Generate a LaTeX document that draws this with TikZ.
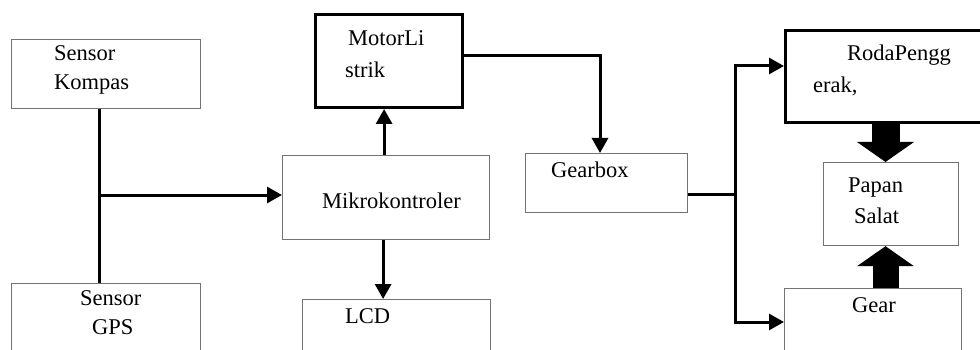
\documentclass[tikz,border=0pt]{standalone}
\usepackage{fontspec}
\setmainfont{Liberation Serif}
\usepackage{tikz}
\usetikzlibrary{positioning}
\usetikzlibrary{arrows.meta}

\tikzset{
    blok/.style={draw=black!55, line width=1.2pt, anchor=north west, inner sep=0pt},
    blokTebal/.style={draw=black, line width=3pt, anchor=north west, inner sep=0pt},
    teks/.style={anchor=base west, inner sep=0pt, font=\fontsize{22.5}{27}\selectfont},
    garis/.style={line width=3pt},
    panah/.style={garis, -{Triangle[length=15pt,width=16pt]}},
    panahBesar/.style={-{Triangle[length=20pt,width=56pt]}}
}

\begin{document}
\begin{tikzpicture}[x=1pt,y=-1pt]
    \useasboundingbox (0,0) rectangle (980,350);
    \clip (0,0) rectangle (980,350);

    % kotak
    \node[blok, minimum width=189pt, minimum height=69pt] (kompas) at (11,39) {};
    \node[blok, minimum width=189pt, minimum height=90pt] (gps) at (11,283) {};
    \node[blok, minimum width=207pt, minimum height=84pt] (mikro) at (282,155) {};
    \node[blokTebal, minimum width=147pt, minimum height=93pt] (motor) at (314,13) {};
    \node[blok, minimum width=188pt, minimum height=80pt] (lcd) at (302,299) {};
    \node[blok, minimum width=162pt, minimum height=59pt] (gearbox) at (525,153) {};
    \node[blokTebal, minimum width=200pt, minimum height=92pt] (roda) at (784,29) {};
    \node[blok, minimum width=135pt, minimum height=83pt] (papan) at (823,162) {};
    \node[blok, minimum width=177pt, minimum height=90pt] (gear) at (784,288) {};

    % teks
    \node[teks] (tKompasA) at (54,61) {Sensor};
    \node[teks] (tKompasB) at (54,90) {Kompas};
    \node[teks] (tGpsA) at (80,305) {Sensor};
    \node[teks] (tGpsB) at (92,334) {GPS};
    \node[teks] (tMikro) at (322,208) {Mikrokontroler};
    \node[teks] (tMotorA) at (348,46) {MotorLi};
    \node[teks] (tMotorB) at (345,78) {strik};
    \node[teks] (tLcd) at (345,323) {LCD};
    \node[teks] (tGearbox) at (551,177) {Gearbox};
    \node[teks] (tRodaA) at (847,61) {RodaPengg};
    \node[teks] (tRodaB) at (813,93) {erak,};
    \node[teks] (tPapanA) at (848,193) {Papan};
    \node[teks] (tPapanB) at (854,223) {Salat};
    \node[teks] (tGear) at (852,312) {Gear};

    % titik belok
    \coordinate (cabang) at (99,195);
    \coordinate (belok) at (600,56);
    \coordinate (cabangDua) at (735,194);
    \coordinate (atas) at (735,66);
    \coordinate (bawah) at (735,322);

    % penghubung
    \draw[garis] (kompas.south -| cabang) -- (gps.north -| cabang);
    \draw[panah] (cabang) -- (cabang -| mikro.west);
    \draw[panah] ([xshift=-2pt]mikro.north) -- ([xshift=-2pt]mikro.north |- motor.south);
    \draw[panah] ([xshift=-3pt]mikro.south) -- ([xshift=-3pt]mikro.south |- lcd.north);
    \draw[panah] (motor.east |- belok) -- (belok) -- (belok |- gearbox.north);
    \draw[garis] (gearbox.east |- cabangDua) -- (cabangDua);
    \draw[panah] (cabangDua) -- (atas) -- (atas -| roda.west);
    \draw[panah] (cabangDua) -- (bawah) -- (bawah -| gear.west);

    % panah besar
    \draw[panahBesar, line width=28pt] (roda.south) -- (roda.south |- papan.north);
    \draw[panahBesar, line width=26pt] (roda.south |- gear.north) -- (roda.south |- papan.south);
\end{tikzpicture}
\end{document}
